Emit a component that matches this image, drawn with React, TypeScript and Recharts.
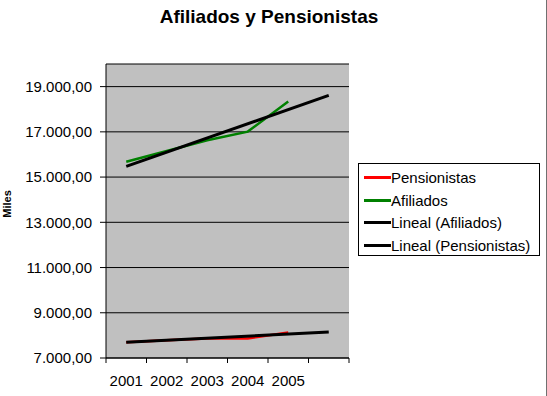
import React from 'react';
import { LineChart, Line, XAxis, YAxis, CartesianGrid, Legend } from 'recharts';

const years = ['2001', '2002', '2003', '2004', '2005', ''];
const afiliados = [15680, 16150, 16630, 17010, 18340, null];
const pensionistas = [7700, 7790, 7860, 7860, 8130, null];
// trendline ends (2001 and one period forecast)
const trendAfiliados = [15470, null, null, null, null, 18610];
const trendPensionistas = [7694, null, null, null, null, 8150];
const yTicks = [7000, 9000, 11000, 13000, 15000, 17000, 19000];
const yDomain = [7000, 20000];
const seriesNames = ['Pensionistas', 'Afiliados', 'Lineal (Afiliados)', 'Lineal (Pensionistas)'];

const data = years.map((y, i) => ({
  year: y,
  pens: pensionistas[i],
  afil: afiliados[i],
  tA: trendAfiliados[i],
  tP: trendPensionistas[i],
}));

const FONT = '"Liberation Sans", Arial, sans-serif';
const W = 547;
const H = 396;
const PLOT_LEFT = 106;
const PLOT_RIGHT = 349;
const HALF = (PLOT_RIGHT - PLOT_LEFT) / years.length / 2;

const fmt = (v: number) => {
  const s = Math.round(v).toString().replace(/\B(?=(\d{3})+(?!\d))/g, '.');
  return s + ',00';
};

const XTick = (props: any) => {
  const { x, y, payload, index } = props;
  return (
    <g>
      <line x1={x - HALF} x2={x - HALF} y1={y} y2={y + 5} stroke="#000" />
      {index === years.length - 1 && (
        <line x1={x + HALF} x2={x + HALF} y1={y} y2={y + 5} stroke="#000" />
      )}
      <text x={x} y={y + 28} textAnchor="middle" fontSize={15} fontFamily={FONT} fill="#000">
        {payload.value}
      </text>
    </g>
  );
};

const renderLegend = (props: any) => {
  const payload = [...(props.payload || [])].sort(
    (a: any, b: any) => seriesNames.indexOf(a.value) - seriesNames.indexOf(b.value)
  );
  return (
    <div
      style={{
        border: '1px solid #000',
        background: '#fff',
        width: 182,
        height: 93,
        boxSizing: 'border-box',
        padding: '2px 0 0 5px',
        fontFamily: FONT,
        fontSize: 15,
        color: '#000',
      }}
    >
      {payload.map((p: any, i: number) => (
        <div key={i} style={{ display: 'flex', alignItems: 'center', height: 22.8, whiteSpace: 'nowrap' }}>
          <span style={{ display: 'inline-block', width: 27, height: 3, background: p.color }} />
          <span>{p.value}</span>
        </div>
      ))}
    </div>
  );
};

const MilesLabel = () => (
  <text
    transform="translate(11, 204) rotate(-90)"
    textAnchor="middle"
    fontSize={11}
    fontWeight="bold"
    fontFamily={FONT}
    fill="#000"
  >
    Miles
  </text>
);

export default function App() {
  return (
    <div
      style={{
        position: 'absolute',
        left: 0,
        top: 0,
        width: W,
        height: H,
        background: '#fff',
        borderRight: '1px solid #707070',
        boxSizing: 'border-box',
        fontFamily: FONT,
      }}
    >
      <div
        style={{
          position: 'absolute',
          left: 0,
          top: 7,
          width: 538,
          textAlign: 'center',
          fontSize: 19,
          lineHeight: '19px',
          fontWeight: 'bold',
          color: '#000',
          fontFamily: FONT,
        }}
      >
        Afiliados y Pensionistas
      </div>
      <LineChart
        width={W}
        height={H}
        data={data}
        margin={{ top: 64, right: W - PLOT_RIGHT, bottom: 0, left: 0 }}
      >
        <CartesianGrid vertical={false} stroke="#000" fill="#C0C0C0" fillOpacity={1} />
        <XAxis
          dataKey="year"
          scale="point"
          interval={0}
          padding={{ left: HALF, right: HALF }}
          height={38}
          tickSize={0}
          tickMargin={0}
          tickLine={false}
          axisLine={{ stroke: '#000' }}
          tick={<XTick />}
        />
        <XAxis
          xAxisId="top"
          orientation="top"
          dataKey="year"
          scale="point"
          padding={{ left: HALF, right: HALF }}
          height={0}
          tick={false}
          tickLine={false}
          axisLine={{ stroke: '#808080' }}
        />
        <YAxis
          domain={yDomain}
          ticks={yTicks}
          allowDataOverflow
          width={PLOT_LEFT}
          tickSize={6}
          tickMargin={8}
          tickFormatter={fmt}
          tick={{ fill: '#000', fontSize: 15, fontFamily: FONT }}
          tickLine={{ stroke: '#000' }}
          axisLine={{ stroke: '#000' }}
          label={<MilesLabel />}
        />
        <YAxis
          yAxisId="r"
          orientation="right"
          domain={yDomain}
          width={0}
          tick={false}
          tickLine={false}
          axisLine={{ stroke: '#808080' }}
        />
        <Line
          dataKey="pens"
          name={seriesNames[0]}
          stroke="#FF0000"
          strokeWidth={2.5}
          dot={false}
          isAnimationActive={false}
          type="linear"
        />
        <Line
          dataKey="afil"
          name={seriesNames[1]}
          stroke="#008000"
          strokeWidth={2.5}
          dot={false}
          isAnimationActive={false}
          type="linear"
        />
        <Line
          dataKey="tA"
          name={seriesNames[2]}
          stroke="#000"
          strokeWidth={3}
          dot={false}
          connectNulls
          isAnimationActive={false}
          type="linear"
        />
        <Line
          dataKey="tP"
          name={seriesNames[3]}
          stroke="#000"
          strokeWidth={3}
          dot={false}
          connectNulls
          isAnimationActive={false}
          type="linear"
        />
        <Legend
          layout="vertical"
          align="center"
          verticalAlign="middle"
          content={renderLegend}
          wrapperStyle={{ left: 358, top: 163, width: 182, height: 93, right: 'auto', bottom: 'auto' }}
        />
      </LineChart>
    </div>
  );
}
